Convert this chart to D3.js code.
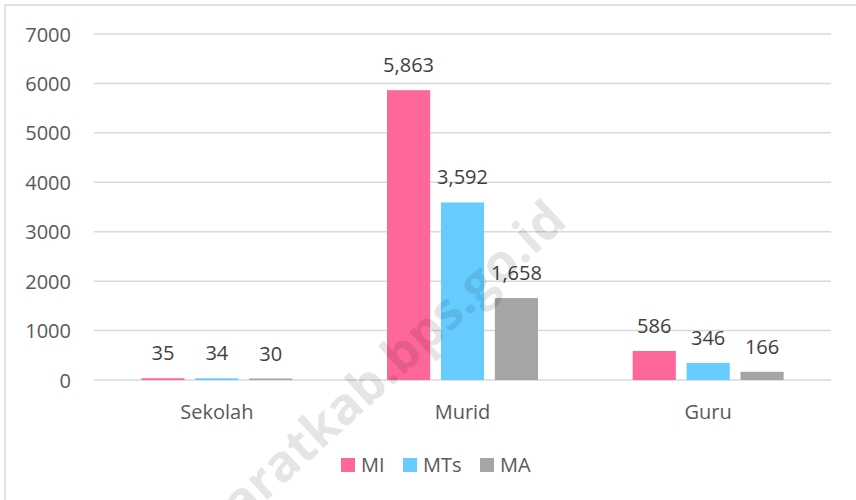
<!doctype html>
<html>
<head>
<meta charset="utf-8">
<title></title>
<style>
body{ margin:0; background:#fff; }
svg{ display:block; font-family:"Open Sans", sans-serif; }
</style>
</head>
<body>
<svg></svg>
<script src="https://cdn.jsdelivr.net/npm/d3@7"></script>
<script>
   var categories = ['Sekolah', 'Murid', 'Guru'];
   var seriesNames = ['MI', 'MTs', 'MA'];
   var valuesMI  = [35, 5863, 586];
   var valuesMTs = [34, 3592, 346];
   var valuesMA  = [30, 1658, 166];
   var yTicks = [0, 1000, 2000, 3000, 4000, 5000, 6000, 7000];
   var colors = ['#ff6699', '#66ccff', '#a5a5a5'];

   var width = 856, height = 500;
   var plotLeft = 94, plotRight = 831, plotTop = 34, plotBottom = 380;

   var series = [valuesMI, valuesMTs, valuesMA];

   var svg = d3.select('svg')
           .attr('width', width)
           .attr('height', height);

   // rangka grafik
   svg.append('rect')
      .attr('x', 5).attr('y', 5)
      .attr('width', 870).attr('height', 520)
      .attr('fill', '#fff')
      .attr('stroke', '#d9d9d9')
      .attr('stroke-width', 1.5);

   var x0 = d3.scaleBand().domain(categories).range([plotLeft, plotRight]);
   var x1 = d3.scaleBand().domain(seriesNames)
              .range([x0.bandwidth() / 2 - 75.5, x0.bandwidth() / 2 + 75.5])
              .paddingInner(0.2);
   var y = d3.scaleLinear().domain([0, 7000]).range([plotBottom, plotTop]);

   // grid
   svg.append('g').selectAll('line')
      .data(yTicks).enter().append('line')
      .attr('x1', plotLeft).attr('x2', plotRight)
      .attr('y1', function (d) { return y(d); })
      .attr('y2', function (d) { return y(d); })
      .attr('stroke', '#d9d9d9')
      .attr('stroke-width', 1.5);

   var yAxis = svg.append('g')
      .attr('transform', 'translate(' + (plotLeft - 23) + ',0)')
      .call(d3.axisLeft(y).tickValues(yTicks).tickSize(0).tickPadding(0).tickFormat(d3.format('d')));
   yAxis.select('.domain').remove();
   yAxis.selectAll('text')
      .attr('fill', '#595959')
      .style('font-size', '20px')
      .style('font-family', '"Open Sans", sans-serif')
      .attr('dy', '0.35em');

   var xAxis = svg.append('g')
      .attr('transform', 'translate(0,' + plotBottom + ')')
      .call(d3.axisBottom(x0).tickSize(0).tickPadding(0));
   xAxis.select('.domain').remove();
   xAxis.selectAll('text')
      .attr('fill', '#595959')
      .attr('y', 39)
      .attr('dy', 0)
      .style('font-size', '20px')
      .style('font-family', '"Open Sans", sans-serif');

   // batang
   var groups = svg.append('g').selectAll('g')
      .data(series).enter().append('g')
      .attr('fill', function (d, i) { return colors[i]; });

   groups.each(function (vals, si) {
      var g = d3.select(this);
      g.selectAll('rect')
       .data(vals).enter().append('rect')
       .attr('x', function (d, i) { return x0(categories[i]) + x1(seriesNames[si]); })
       .attr('width', x1.bandwidth())
       .attr('y', function (d) { return y(d); })
       .attr('height', function (d) { return plotBottom - y(d); });
      g.selectAll('text')
       .data(vals).enter().append('text')
       .attr('x', function (d, i) { return x0(categories[i]) + x1(seriesNames[si]) + x1.bandwidth() / 2; })
       .attr('y', function (d) { return y(d) - 18; })
       .attr('text-anchor', 'middle')
       .attr('fill', '#404040')
       .style('font-size', '20px')
       .text(function (d) { return d3.format(',')(d); });
   });

   // legenda
   var legendX = [341, 403, 480];
   var legend = svg.append('g').selectAll('g')
      .data(seriesNames).enter().append('g')
      .attr('transform', function (d, i) { return 'translate(' + legendX[i] + ',458)'; });
   legend.append('rect')
      .attr('width', 14).attr('height', 14)
      .attr('fill', function (d, i) { return colors[i]; });
   legend.append('text')
      .attr('x', 20).attr('y', 14)
      .attr('fill', '#595959')
      .style('font-size', '20px')
      .text(function (d) { return d; });

   // watermark di atas grafik
   svg.append('text')
      .attr('transform', 'translate(218,545) rotate(-42.5)')
      .attr('fill', '#000')
      .attr('fill-opacity', 0.1)
      .style('font-size', '51px')
      .style('font-weight', 'bold')
      .style('pointer-events', 'none')
      .text('baratkab.bps.go.id');
</script>
</body>
</html>
